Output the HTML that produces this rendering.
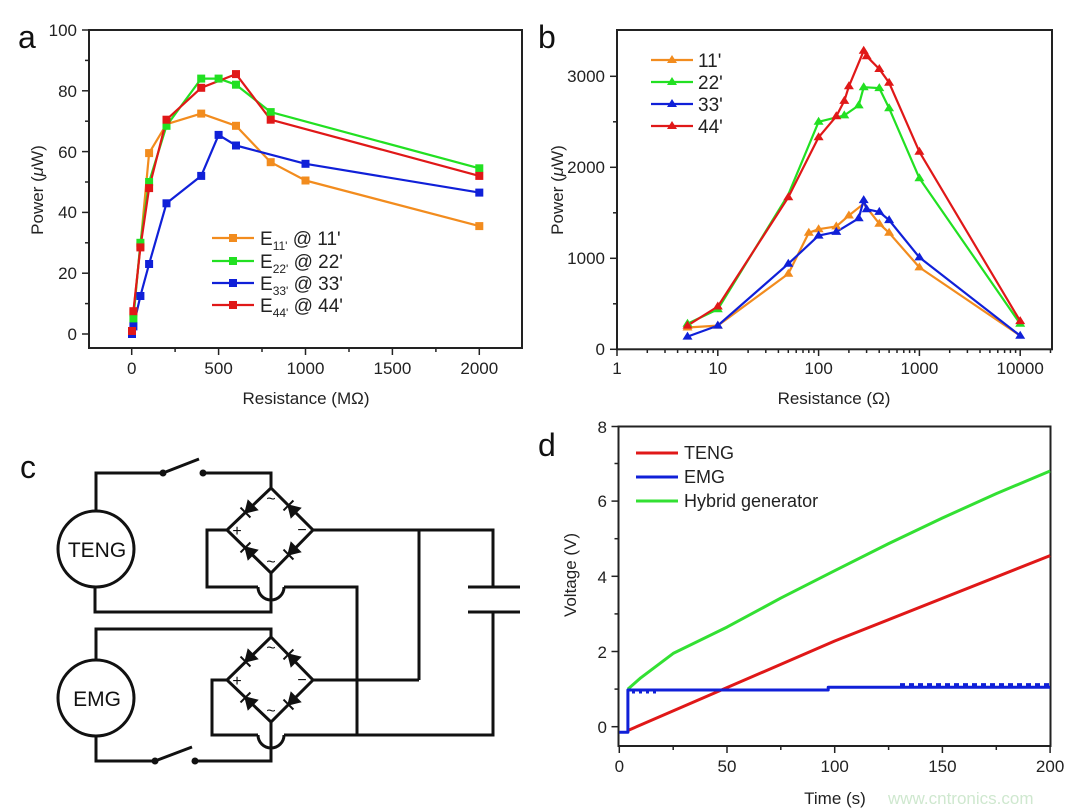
<!DOCTYPE html>
<html><head><meta charset="utf-8"><style>
html,body{margin:0;padding:0;background:#fff}
svg{display:block;font-family:"Liberation Sans",sans-serif}
</style></head><body>
<svg width="1071" height="812" viewBox="0 0 1071 812" xmlns="http://www.w3.org/2000/svg">
<rect width="1071" height="812" fill="#fff"/>
<!-- Panel letters -->
<g font-size="32" fill="#111">
<text x="18" y="48">a</text>
<text x="538" y="48">b</text>
<text x="20" y="478">c</text>
<text x="538" y="456">d</text>
</g>

<!-- ============ Panel a ============ -->
<g stroke="#222" stroke-width="2" fill="none">
<rect x="89" y="30" width="433" height="318"/>
</g>
<g stroke="#222" stroke-width="1.5">
<!-- x ticks major -->
<line x1="131.7" y1="348" x2="131.7" y2="355"/><line x1="218.6" y1="348" x2="218.6" y2="355"/><line x1="305.5" y1="348" x2="305.5" y2="355"/><line x1="392.4" y1="348" x2="392.4" y2="355"/><line x1="479.3" y1="348" x2="479.3" y2="355"/>
<line x1="175.1" y1="348" x2="175.1" y2="352"/><line x1="262" y1="348" x2="262" y2="352"/><line x1="349" y1="348" x2="349" y2="352"/><line x1="435.9" y1="348" x2="435.9" y2="352"/>
<!-- y ticks -->
<line x1="82" y1="334" x2="89" y2="334"/><line x1="82" y1="273.2" x2="89" y2="273.2"/><line x1="82" y1="212.4" x2="89" y2="212.4"/><line x1="82" y1="151.6" x2="89" y2="151.6"/><line x1="82" y1="90.8" x2="89" y2="90.8"/><line x1="82" y1="30" x2="89" y2="30"/>
<line x1="85" y1="303.6" x2="89" y2="303.6"/><line x1="85" y1="242.8" x2="89" y2="242.8"/><line x1="85" y1="182" x2="89" y2="182"/><line x1="85" y1="121.2" x2="89" y2="121.2"/><line x1="85" y1="60.4" x2="89" y2="60.4"/>
</g>
<g font-size="17" fill="#222" text-anchor="end">
<text x="77" y="340">0</text><text x="77" y="279">20</text><text x="77" y="218">40</text><text x="77" y="158">60</text><text x="77" y="97">80</text><text x="77" y="36">100</text>
</g>
<g font-size="17" fill="#222" text-anchor="middle">
<text x="131.7" y="374">0</text><text x="218.6" y="374">500</text><text x="305.5" y="374">1000</text><text x="392.4" y="374">1500</text><text x="479.3" y="374">2000</text>
<text x="306" y="404">Resistance (MΩ)</text>
</g>
<text font-size="17" fill="#222" text-anchor="middle" transform="translate(43,190) rotate(-90)">Power (<tspan font-style="italic">μ</tspan>W)</text>

<g fill="none" stroke-width="2.2" stroke-linejoin="round">
<polyline stroke="#f28c1e" points="131.9,331 133.4,312.7 140.4,245.8 149.1,153.1 166.5,124.2 201.2,113.6 236,125.8 270.7,162.2 305.5,180.5 479.3,226.1"/>
<polyline stroke="#22e022" points="131.9,331 133.4,318.8 140.4,242.8 149.1,182 166.5,125.8 201.2,78.6 218.6,78.6 236,84.7 270.7,112.1 479.3,168.3"/>
<polyline stroke="#1020d8" points="131.9,334 133.4,326.4 140.4,296 149.1,264 166.5,203.3 201.2,175.9 218.6,134.9 236,145.5 305.5,163.8 479.3,192.6"/>
<polyline stroke="#e01818" points="131.9,331 133.4,311.2 140.4,247.4 149.1,188.1 166.5,119.7 201.2,87.8 236,74.1 270.7,119.7 479.3,175.9"/>
</g>
<g>
<g fill="#f28c1e"><rect x="128" y="327" width="8" height="8"/><rect x="129.4" y="308.7" width="8" height="8"/><rect x="136.4" y="241.8" width="8" height="8"/><rect x="145.1" y="149.1" width="8" height="8"/><rect x="162.5" y="120.2" width="8" height="8"/><rect x="197.2" y="109.6" width="8" height="8"/><rect x="232" y="121.8" width="8" height="8"/><rect x="266.7" y="158.2" width="8" height="8"/><rect x="301.5" y="176.5" width="8" height="8"/><rect x="475.3" y="222.1" width="8" height="8"/></g>
<g fill="#22e022"><rect x="129.4" y="314.8" width="8" height="8"/><rect x="136.4" y="238.8" width="8" height="8"/><rect x="145.1" y="178" width="8" height="8"/><rect x="162.5" y="121.8" width="8" height="8"/><rect x="197.2" y="74.6" width="8" height="8"/><rect x="214.6" y="74.6" width="8" height="8"/><rect x="232" y="80.7" width="8" height="8"/><rect x="266.7" y="108.1" width="8" height="8"/><rect x="475.3" y="164.3" width="8" height="8"/></g>
<g fill="#1020d8"><rect x="128" y="330" width="8" height="8"/><rect x="129.4" y="322.4" width="8" height="8"/><rect x="136.4" y="292" width="8" height="8"/><rect x="145.1" y="260" width="8" height="8"/><rect x="162.5" y="199.3" width="8" height="8"/><rect x="197.2" y="171.9" width="8" height="8"/><rect x="214.6" y="130.9" width="8" height="8"/><rect x="232" y="141.5" width="8" height="8"/><rect x="301.5" y="159.8" width="8" height="8"/><rect x="475.3" y="188.6" width="8" height="8"/></g>
<g fill="#e01818"><rect x="128" y="327" width="8" height="8"/><rect x="129.4" y="307.2" width="8" height="8"/><rect x="136.4" y="243.4" width="8" height="8"/><rect x="145.1" y="184.1" width="8" height="8"/><rect x="162.5" y="115.7" width="8" height="8"/><rect x="197.2" y="83.8" width="8" height="8"/><rect x="232" y="70.1" width="8" height="8"/><rect x="266.7" y="115.7" width="8" height="8"/><rect x="475.3" y="171.9" width="8" height="8"/></g>
</g>
<!-- legend a -->
<g stroke-width="2.2">
<line x1="212" y1="238" x2="254" y2="238" stroke="#f28c1e"/><rect x="229" y="234" width="8" height="8" fill="#f28c1e"/>
<line x1="212" y1="261" x2="254" y2="261" stroke="#22e022"/><rect x="229" y="257" width="8" height="8" fill="#22e022"/>
<line x1="212" y1="283" x2="254" y2="283" stroke="#1020d8"/><rect x="229" y="279" width="8" height="8" fill="#1020d8"/>
<line x1="212" y1="305" x2="254" y2="305" stroke="#e01818"/><rect x="229" y="301" width="8" height="8" fill="#e01818"/>
</g>
<g font-size="19" fill="#222">
<text x="260" y="245">E<tspan font-size="12" dy="5">11'</tspan><tspan dy="-5"> @ 11'</tspan></text>
<text x="260" y="268">E<tspan font-size="12" dy="5">22'</tspan><tspan dy="-5"> @ 22'</tspan></text>
<text x="260" y="290">E<tspan font-size="12" dy="5">33'</tspan><tspan dy="-5"> @ 33'</tspan></text>
<text x="260" y="312">E<tspan font-size="12" dy="5">44'</tspan><tspan dy="-5"> @ 44'</tspan></text>
</g>

<!-- ============ Panel b ============ -->
<rect x="617" y="30" width="435" height="319.3" fill="none" stroke="#222" stroke-width="2"/>
<g stroke="#222" stroke-width="1.5">
<line x1="617" y1="349" x2="617" y2="356"/><line x1="717.8" y1="349" x2="717.8" y2="356"/><line x1="818.6" y1="349" x2="818.6" y2="356"/><line x1="919.4" y1="349" x2="919.4" y2="356"/><line x1="1020.2" y1="349" x2="1020.2" y2="356"/>
<!-- minor log ticks -->
<g>
<line x1="647.3" y1="349" x2="647.3" y2="353"/><line x1="665" y1="349" x2="665" y2="353"/><line x1="677.6" y1="349" x2="677.6" y2="353"/><line x1="687.5" y1="349" x2="687.5" y2="353"/><line x1="695.4" y1="349" x2="695.4" y2="353"/><line x1="702.2" y1="349" x2="702.2" y2="353"/><line x1="708" y1="349" x2="708" y2="353"/><line x1="713.2" y1="349" x2="713.2" y2="353"/>
<line x1="748.1" y1="349" x2="748.1" y2="353"/><line x1="765.8" y1="349" x2="765.8" y2="353"/><line x1="778.4" y1="349" x2="778.4" y2="353"/><line x1="788.3" y1="349" x2="788.3" y2="353"/><line x1="796.2" y1="349" x2="796.2" y2="353"/><line x1="803" y1="349" x2="803" y2="353"/><line x1="808.8" y1="349" x2="808.8" y2="353"/><line x1="814" y1="349" x2="814" y2="353"/>
<line x1="848.9" y1="349" x2="848.9" y2="353"/><line x1="866.6" y1="349" x2="866.6" y2="353"/><line x1="879.2" y1="349" x2="879.2" y2="353"/><line x1="889.1" y1="349" x2="889.1" y2="353"/><line x1="897" y1="349" x2="897" y2="353"/><line x1="903.8" y1="349" x2="903.8" y2="353"/><line x1="909.6" y1="349" x2="909.6" y2="353"/><line x1="914.8" y1="349" x2="914.8" y2="353"/>
<line x1="949.7" y1="349" x2="949.7" y2="353"/><line x1="967.4" y1="349" x2="967.4" y2="353"/><line x1="980" y1="349" x2="980" y2="353"/><line x1="989.9" y1="349" x2="989.9" y2="353"/><line x1="997.8" y1="349" x2="997.8" y2="353"/><line x1="1004.6" y1="349" x2="1004.6" y2="353"/><line x1="1010.4" y1="349" x2="1010.4" y2="353"/><line x1="1015.6" y1="349" x2="1015.6" y2="353"/>
<line x1="1050.5" y1="349" x2="1050.5" y2="353"/>
</g>
<line x1="610" y1="349.3" x2="617" y2="349.3"/><line x1="610" y1="258.3" x2="617" y2="258.3"/><line x1="610" y1="167.3" x2="617" y2="167.3"/><line x1="610" y1="76.3" x2="617" y2="76.3"/>
<line x1="613" y1="303.8" x2="617" y2="303.8"/><line x1="613" y1="212.8" x2="617" y2="212.8"/><line x1="613" y1="121.8" x2="617" y2="121.8"/>
</g>
<g font-size="17" fill="#222" text-anchor="end">
<text x="605" y="355">0</text><text x="605" y="264">1000</text><text x="605" y="173">2000</text><text x="605" y="82">3000</text>
</g>
<g font-size="17" fill="#222" text-anchor="middle">
<text x="617" y="374">1</text><text x="717.8" y="374">10</text><text x="818.6" y="374">100</text><text x="919.4" y="374">1000</text><text x="1020.2" y="374">10000</text>
<text x="834" y="404">Resistance (Ω)</text>
</g>
<text font-size="17" fill="#222" text-anchor="middle" transform="translate(563,190) rotate(-90)">Power (<tspan font-style="italic">μ</tspan>W)</text>
<g fill="none" stroke-width="2.2" stroke-linejoin="round">
<polyline stroke="#f28c1e" points="687.5,327.5 717.8,325.6 788.3,273.8 808.8,232.8 818.6,229.2 836.3,226.4 848.9,215.5 863.7,203.7 879.3,223.7 889.1,232.8 919.4,267.4 1020.2,335.7"/>
<polyline stroke="#22e022" points="687.5,323.8 717.8,309.3 788.3,194.6 818.6,121.8 844.3,115.4 858.7,105.4 863.7,87.2 879.3,88.1 889.1,108.2 919.4,178.2 1020.2,323.8"/>
<polyline stroke="#1020d8" points="687.5,336.6 717.8,325.6 788.3,263.8 818.6,235.6 836.3,231.9 858.7,218.3 863.7,200.1 866.7,209.2 879.3,211.9 889.1,220.1 919.4,257.4 1020.2,335.7"/>
<polyline stroke="#e01818" points="687.5,325.6 717.8,306.5 788.3,197.3 818.6,137.3 836.3,116.3 844.3,100.9 848.9,86.3 863.7,50.8 866.7,56.3 879.3,69 889.1,82.7 919.4,151.8 1020.2,321.1"/>
</g>
<g>
<g fill="#f28c1e"><path d="M687.5,322.5l5,8h-10z M717.8,320.6l5,8h-10z M788.3,268.8l5,8h-10z M808.8,227.8l5,8h-10z M818.6,224.2l5,8h-10z M836.3,221.4l5,8h-10z M848.9,210.5l5,8h-10z M879.3,218.7l5,8h-10z M889.1,227.8l5,8h-10z M919.4,262.4l5,8h-10z"/></g>
<g fill="#22e022"><path d="M687.5,318.8l5,8h-10z M717.8,304.3l5,8h-10z M818.6,116.8l5,8h-10z M844.3,110.4l5,8h-10z M858.7,100.4l5,8h-10z M863.7,82.2l5,8h-10z M879.3,83.1l5,8h-10z M889.1,103.2l5,8h-10z M919.4,173.2l5,8h-10z M1020.2,318.8l5,8h-10z"/></g>
<g fill="#1020d8"><path d="M687.5,331.6l5,8h-10z M717.8,320.6l5,8h-10z M788.3,258.8l5,8h-10z M818.6,230.6l5,8h-10z M836.3,226.9l5,8h-10z M858.7,213.3l5,8h-10z M863.7,195.1l5,8h-10z M866.7,204.2l5,8h-10z M879.3,206.9l5,8h-10z M889.1,215.1l5,8h-10z M919.4,252.4l5,8h-10z M1020.2,330.7l5,8h-10z"/></g>
<g fill="#e01818"><path d="M687.5,320.6l5,8h-10z M717.8,301.5l5,8h-10z M788.3,192.3l5,8h-10z M818.6,132.3l5,8h-10z M836.3,111.3l5,8h-10z M844.3,95.9l5,8h-10z M848.9,81.3l5,8h-10z M863.7,45.8l5,8h-10z M866.7,51.3l5,8h-10z M879.3,64l5,8h-10z M889.1,77.7l5,8h-10z M919.4,146.8l5,8h-10z M1020.2,316.1l5,8h-10z"/></g>
</g>
<!-- legend b -->
<g stroke-width="2.2">
<line x1="651" y1="60" x2="693" y2="60" stroke="#f28c1e"/><path d="M672,55l5,8h-10z" fill="#f28c1e"/>
<line x1="651" y1="82" x2="693" y2="82" stroke="#22e022"/><path d="M672,77l5,8h-10z" fill="#22e022"/>
<line x1="651" y1="104" x2="693" y2="104" stroke="#1020d8"/><path d="M672,99l5,8h-10z" fill="#1020d8"/>
<line x1="651" y1="126" x2="693" y2="126" stroke="#e01818"/><path d="M672,121l5,8h-10z" fill="#e01818"/>
</g>
<g font-size="19" fill="#222">
<text x="698" y="67">11'</text><text x="698" y="89">22'</text><text x="698" y="111">33'</text><text x="698" y="133">44'</text>
</g>

<!-- ============ Panel c circuit ============ -->
<g stroke="#111" stroke-width="3" fill="none" stroke-linejoin="miter">
<circle cx="96" cy="549" r="38"/>
<circle cx="96" cy="698" r="38"/>
<!-- TENG top -->
<polyline points="96,511 96,473 163,473"/>
<line x1="163" y1="473" x2="199" y2="459"/>
<polyline points="203,473 271,473 271,488"/>
<!-- bridge 1 -->
<polygon points="271,488 313,530 271,573 227,530"/>
<!-- left of bridge1 loop with hop -->
<polyline points="227,530 207,530 207,587 258,587"/>
<path d="M258,587 A13,13 0 0 0 284,587"/>
<polyline points="284,587 357,587 357,735"/>
<!-- bottom of bridge1 to TENG -->
<polyline points="271,573 271,612 95,612 95,587"/>
<!-- right of bridge1 -->
<polyline points="313,530 493,530 493,587"/>
<line x1="419" y1="530" x2="419" y2="680"/>
<!-- capacitor -->
<line x1="468" y1="587" x2="520" y2="587"/>
<line x1="468" y1="612" x2="520" y2="612"/>
<polyline points="493,612 493,735 284,735"/>
<path d="M284,735 A13,13 0 0 1 258,735"/>
<polyline points="258,735 212,735 212,680 227,680"/>
<!-- EMG top -->
<polyline points="96,660 96,629 271,629 271,637"/>
<polygon points="271,637 313,680 271,722 227,680"/>
<line x1="313" y1="680" x2="419" y2="680"/>
<!-- bottom EMG -->
<polyline points="271,722 271,761 195,761"/>
<line x1="155" y1="761" x2="192" y2="747"/>
<polyline points="155,761 96,761 96,736"/>
</g>
<g fill="#111">
<circle cx="163" cy="473" r="3.5"/><circle cx="203" cy="473" r="3.5"/>
<circle cx="155" cy="761" r="3.5"/><circle cx="195" cy="761" r="3.5"/>
</g>
<!-- diodes -->
<g fill="#111" stroke="#111" stroke-width="2">
<g transform="translate(249,509) rotate(135)"><path d="M-5,-6 L5,0 L-5,6Z"/><line x1="5" y1="-7" x2="5" y2="7"/></g>
<g transform="translate(292,509) rotate(225)"><path d="M-5,-6 L5,0 L-5,6Z"/><line x1="5" y1="-7" x2="5" y2="7"/></g>
<g transform="translate(249,551) rotate(225)"><path d="M-5,-6 L5,0 L-5,6Z"/><line x1="5" y1="-7" x2="5" y2="7"/></g>
<g transform="translate(292,551) rotate(135)"><path d="M-5,-6 L5,0 L-5,6Z"/><line x1="5" y1="-7" x2="5" y2="7"/></g>
<g transform="translate(249,658) rotate(135)"><path d="M-5,-6 L5,0 L-5,6Z"/><line x1="5" y1="-7" x2="5" y2="7"/></g>
<g transform="translate(292,658) rotate(225)"><path d="M-5,-6 L5,0 L-5,6Z"/><line x1="5" y1="-7" x2="5" y2="7"/></g>
<g transform="translate(249,701) rotate(225)"><path d="M-5,-6 L5,0 L-5,6Z"/><line x1="5" y1="-7" x2="5" y2="7"/></g>
<g transform="translate(292,701) rotate(135)"><path d="M-5,-6 L5,0 L-5,6Z"/><line x1="5" y1="-7" x2="5" y2="7"/></g>
</g>
<g font-size="16" fill="#111" text-anchor="middle">
<text x="237" y="536">+</text><text x="302" y="535">−</text><text x="271" y="504">~</text><text x="271" y="567">~</text>
<text x="237" y="686">+</text><text x="302" y="685">−</text><text x="271" y="653">~</text><text x="271" y="716">~</text>
</g>
<g font-size="21" fill="#111" text-anchor="middle">
<text x="97" y="557">TENG</text><text x="97" y="706">EMG</text>
</g>

<!-- ============ Panel d ============ -->
<rect x="618.5" y="426.5" width="432" height="319.5" fill="none" stroke="#222" stroke-width="2"/>
<g stroke="#222" stroke-width="1.5">
<line x1="619.3" y1="746" x2="619.3" y2="753"/><line x1="727" y1="746" x2="727" y2="753"/><line x1="834.7" y1="746" x2="834.7" y2="753"/><line x1="942.4" y1="746" x2="942.4" y2="753"/><line x1="1050.1" y1="746" x2="1050.1" y2="753"/>
<line x1="673.2" y1="746" x2="673.2" y2="750"/><line x1="780.8" y1="746" x2="780.8" y2="750"/><line x1="888.6" y1="746" x2="888.6" y2="750"/><line x1="996.3" y1="746" x2="996.3" y2="750"/>
<line x1="611.5" y1="726.7" x2="618.5" y2="726.7"/><line x1="611.5" y1="651.5" x2="618.5" y2="651.5"/><line x1="611.5" y1="576.3" x2="618.5" y2="576.3"/><line x1="611.5" y1="501.1" x2="618.5" y2="501.1"/><line x1="611.5" y1="426.5" x2="618.5" y2="426.5"/>
<line x1="614.5" y1="689.1" x2="618.5" y2="689.1"/><line x1="614.5" y1="613.9" x2="618.5" y2="613.9"/><line x1="614.5" y1="538.7" x2="618.5" y2="538.7"/><line x1="614.5" y1="463.5" x2="618.5" y2="463.5"/>
</g>
<g font-size="17" fill="#222" text-anchor="end">
<text x="607" y="733">0</text><text x="607" y="658">2</text><text x="607" y="583">4</text><text x="607" y="507">6</text><text x="607" y="433">8</text>
</g>
<g font-size="17" fill="#222" text-anchor="middle">
<text x="619.3" y="772">0</text><text x="727" y="772">50</text><text x="834.7" y="772">100</text><text x="942.4" y="772">150</text><text x="1050.1" y="772">200</text>
<text x="835" y="804">Time (s)</text>
</g>
<text font-size="17" fill="#222" text-anchor="middle" transform="translate(576,575) rotate(-90)">Voltage (V)</text>
<text x="888" y="804" font-size="17" fill="#cfe8cf">www.cntronics.com</text>
<g fill="none" stroke-width="3" stroke-linejoin="round">
<polyline stroke="#33e033" points="627.9,689.1 640.8,677.8 673.2,653.4 727,627.1 780.8,598.1 834.7,570.7 888.6,543.6 942.4,518 996.3,493.6 1050.1,471"/>
<polyline stroke="#e01818" points="627.9,730.5 834.7,641 1050.1,555.6"/>
<polyline stroke="#1020d8" points="619.3,732.3 627.9,732.3 627.9,690 828.2,690 828.2,687.2 1050.1,687.2"/>
<line x1="632" y1="692" x2="660" y2="692" stroke="#1020d8" stroke-dasharray="3,4"/>
<line x1="900" y1="684.6" x2="1050" y2="684.6" stroke="#1020d8" stroke-dasharray="5,4"/>
</g>
<!-- legend d -->
<g stroke-width="3">
<line x1="636" y1="453" x2="678" y2="453" stroke="#e01818"/>
<line x1="636" y1="477" x2="678" y2="477" stroke="#1020d8"/>
<line x1="636" y1="501" x2="678" y2="501" stroke="#33e033"/>
</g>
<g font-size="18" fill="#222">
<text x="684" y="459">TENG</text><text x="684" y="483">EMG</text><text x="684" y="507">Hybrid  generator</text>
</g>
</svg>
</body></html>
